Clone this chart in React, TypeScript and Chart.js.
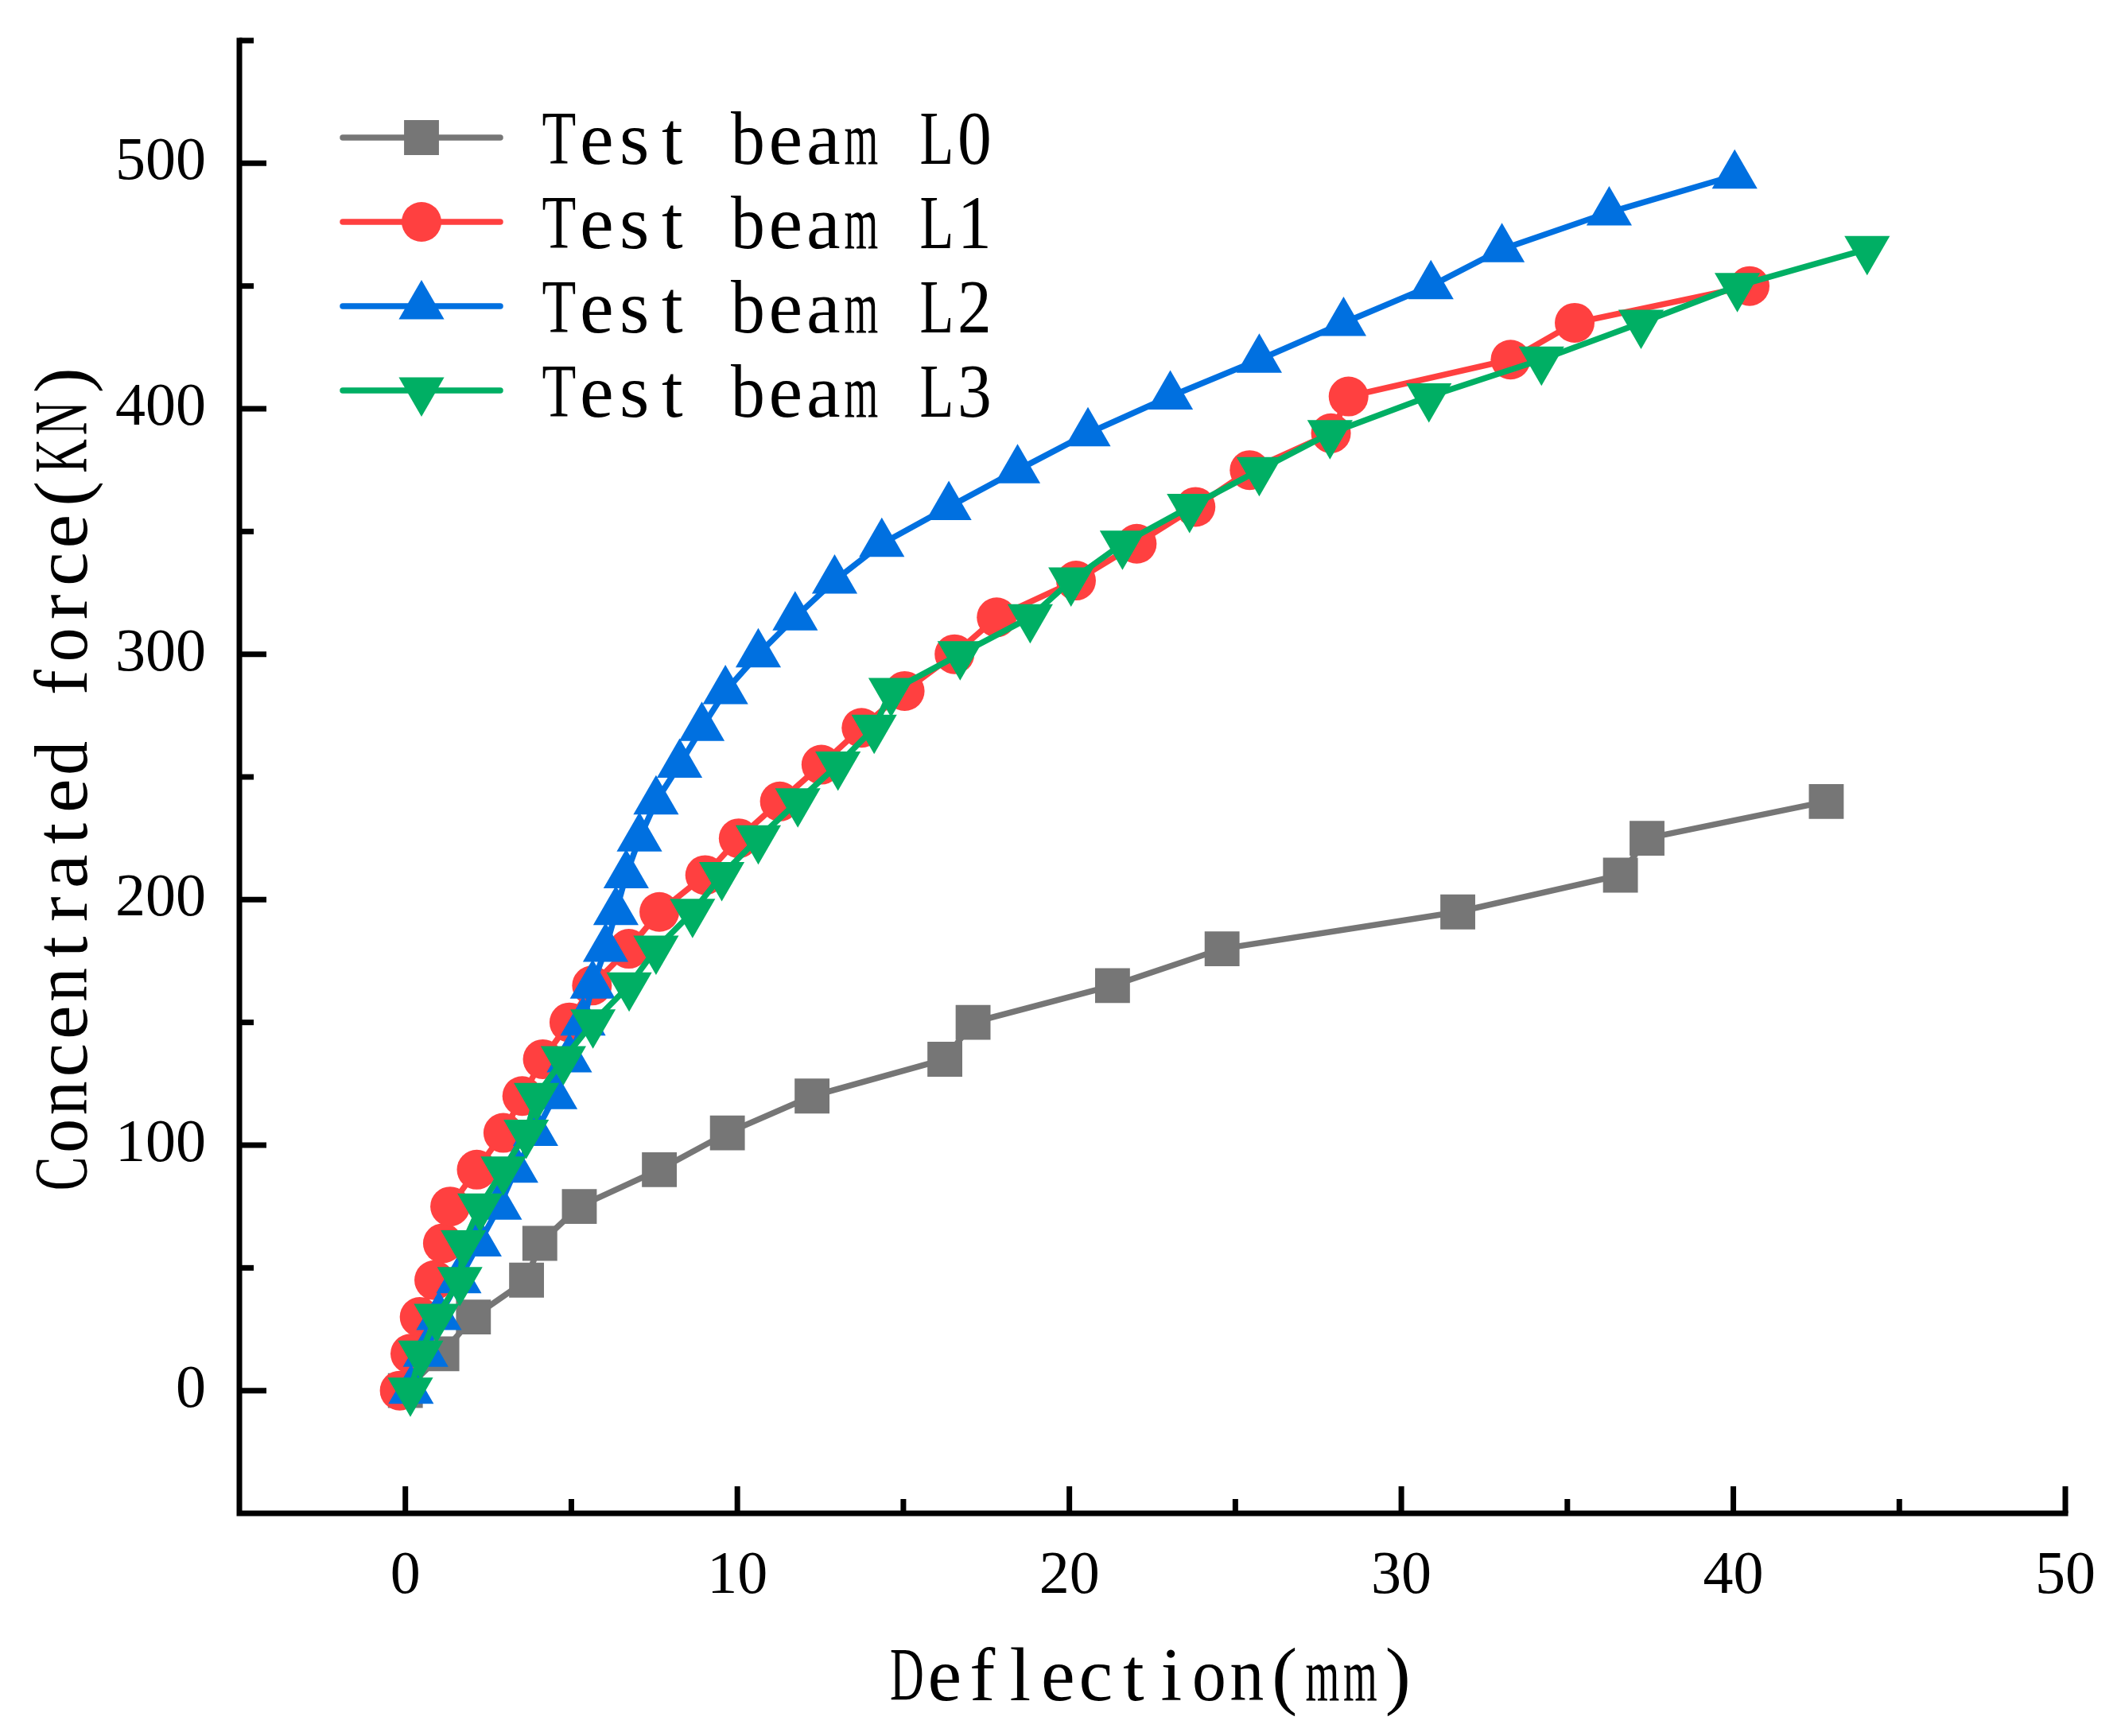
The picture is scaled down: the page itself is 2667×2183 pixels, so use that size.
import React, { useEffect, useRef } from 'react';
import { Chart, registerables } from 'chart.js';
import { drawPoint } from 'chart.js/helpers';

Chart.register(...registerables);

// load steps (kN) and measured deflection (mm) for each beam
const loadL0 = [0, 15, 30, 45, 60, 75, 90, 105, 120, 135, 150, 165, 180, 195, 210, 225, 240];
const deflL0 = [0, 1.1, 2.05, 3.65, 4.05, 5.24, 7.65, 9.7, 12.25, 16.25, 17.1, 21.3, 24.6, 31.7, 36.6, 37.4, 42.8];

const loadL1 = [0, 15, 30, 45, 60, 75, 90, 105, 120, 135, 150, 165, 180, 195, 210, 225, 240, 255, 270, 285, 300, 315, 330, 345, 360, 375, 390, 405, 420, 435, 450];
const deflL1 = [-0.17, 0.15, 0.43, 0.87, 1.13, 1.35, 2.15, 2.95, 3.52, 4.14, 4.94, 5.62, 6.73, 7.65, 9.03, 10.04, 11.28, 12.53, 13.74, 15.04, 16.54, 17.81, 20.2, 22.03, 23.8, 25.43, 27.88, 28.41, 33.29, 35.22, 40.49];

const loadL2 = [0, 15, 30, 45, 60, 75, 90, 105, 120, 135, 150, 165, 180, 195, 210, 225, 240, 255, 270, 285, 300, 315, 330, 345, 360, 375, 390, 405, 420, 435, 450, 465, 480, 495];
const deflL2 = [0.17, 0.61, 1.01, 1.61, 2.22, 2.83, 3.32, 3.92, 4.5, 4.94, 5.35, 5.64, 6.03, 6.34, 6.65, 7.05, 7.55, 8.26, 8.93, 9.64, 10.63, 11.74, 12.93, 14.35, 16.37, 18.44, 20.56, 23.04, 25.72, 28.26, 30.89, 33.03, 36.26, 40.04];

const loadL3 = [0, 15, 30, 45, 60, 75, 90, 105, 120, 135, 150, 165, 180, 195, 210, 225, 240, 255, 270, 285, 300, 315, 330, 345, 360, 375, 390, 405, 420, 435, 450, 465];
const deflL3 = [0.15, 0.46, 0.94, 1.64, 1.75, 2.25, 2.95, 3.64, 3.95, 4.76, 5.65, 6.74, 7.55, 8.65, 9.53, 10.63, 11.82, 13.03, 14.12, 14.63, 16.71, 18.82, 20.05, 21.6, 23.62, 25.72, 27.85, 30.83, 34.22, 37.22, 40.12, 44.03];

const seriesNames = ['Test beam L0', 'Test beam L1', 'Test beam L2', 'Test beam L3'];

const xMajorTicks = [0, 10, 20, 30, 40, 50];
const xMinorTicks = [5, 15, 25, 35, 45];
const yMajorTicks = [0, 100, 200, 300, 400, 500];
const yMinorTicks = [50, 150, 250, 350, 450, 550];

const xTitle = 'Deflection(mm)';
const yTitle = 'Concentrated force(KN)';

const TEXT_FONT = '96px "Liberation Serif"';
const CELL = 47.5;

// draws text as fixed-width cells, squeezing wide glyphs (looks like SimSun latin)
function drawMono(ctx: CanvasRenderingContext2D, text: string, x: number, y: number) {
  ctx.font = TEXT_FONT;
  ctx.textAlign = 'center';
  ctx.textBaseline = 'alphabetic';
  for (let i = 0; i < text.length; i++) {
    const ch = text[i];
    if (ch === ' ') continue;
    const w = ctx.measureText(ch).width;
    const s = Math.min(1, (CELL * 0.9) / w);
    ctx.save();
    ctx.translate(x + CELL * (i + 0.5), y);
    ctx.scale(s, 1);
    ctx.fillText(ch, 0, 0);
    ctx.restore();
  }
}

const axesPlugin = {
  id: 'axesPlugin',
  afterDraw(chart: any) {
    const { ctx, chartArea: a, scales } = chart;
    const xs = scales.x;
    const ys = scales.y;
    ctx.save();
    ctx.strokeStyle = '#000';
    ctx.fillStyle = '#000';

    // spines
    ctx.lineWidth = 7;
    ctx.lineCap = 'square';
    ctx.lineJoin = 'miter';
    ctx.beginPath();
    ctx.moveTo(a.left, a.top);
    ctx.lineTo(a.left, a.bottom);
    ctx.lineTo(a.right, a.bottom);
    ctx.stroke();

    // inward ticks
    ctx.lineCap = 'butt';
    const tick = (x1: number, y1: number, x2: number, y2: number) => {
      ctx.beginPath();
      ctx.moveTo(x1, y1);
      ctx.lineTo(x2, y2);
      ctx.stroke();
    };
    xMajorTicks.forEach((v) => { const p = xs.getPixelForValue(v); tick(p, a.bottom, p, a.bottom - 34); });
    xMinorTicks.forEach((v) => { const p = xs.getPixelForValue(v); tick(p, a.bottom, p, a.bottom - 18); });
    yMajorTicks.forEach((v) => { const p = ys.getPixelForValue(v); tick(a.left, p, a.left + 34, p); });
    yMinorTicks.forEach((v) => { const p = ys.getPixelForValue(v); tick(a.left, p, a.left + 18, p); });

    // axis titles
    drawMono(ctx, xTitle, (a.left + a.right) / 2 - (xTitle.length * CELL) / 2, 2138);
    ctx.save();
    ctx.translate(109, (a.top + a.bottom) / 2);
    ctx.rotate(-Math.PI / 2);
    drawMono(ctx, yTitle, -(yTitle.length * CELL) / 2, 0);
    ctx.restore();

    // legend
    chart.data.datasets.forEach((ds: any, i: number) => {
      const rowY = 173 + i * 106;
      ctx.strokeStyle = ds.borderColor;
      ctx.lineWidth = ds.borderWidth;
      ctx.lineCap = 'round';
      ctx.beginPath();
      ctx.moveTo(431, rowY);
      ctx.lineTo(629, rowY);
      ctx.stroke();
      ctx.fillStyle = ds.pointBackgroundColor;
      drawPoint(ctx, {
        pointStyle: ds.pointStyle,
        rotation: ds.pointRotation || 0,
        radius: ds.pointRadius,
        borderWidth: 0,
      }, 530, rowY);
      ctx.fillStyle = '#000';
      drawMono(ctx, seriesNames[i], 679, rowY + 33);
    });
    ctx.restore();
  },
};

const toPoints = (xs: number[], ys: number[]) => xs.map((x, i) => ({ x, y: ys[i] }));

const makeSet = (label: string, color: string, pts: { x: number; y: number }[], style: string, radius: number, rotation: number, order: number) => ({
  label,
  data: pts,
  borderColor: color,
  backgroundColor: color,
  pointBackgroundColor: color,
  pointBorderColor: color,
  pointBorderWidth: 0,
  borderWidth: 7.5,
  pointStyle: style,
  pointRadius: radius,
  pointRotation: rotation,
  tension: 0,
  order,
});

const App: React.FC = () => {
  const canvasRef = useRef<HTMLCanvasElement>(null);

  useEffect(() => {
    if (!canvasRef.current) return;
    const chart = new Chart(canvasRef.current, {
      type: 'line',
      data: {
        datasets: [
          makeSet(seriesNames[0], '#767676', toPoints(deflL0, loadL0), 'rect', 31, 0, 3),
          makeSet(seriesNames[1], '#FF4040', toPoints(deflL1, loadL1), 'circle', 25, 0, 2),
          makeSet(seriesNames[2], '#0070E0', toPoints(deflL2, loadL2), 'triangle', 33, 0, 1),
          makeSet(seriesNames[3], '#00AF64', toPoints(deflL3, loadL3), 'triangle', 33, 180, 0),
        ] as any,
      },
      options: {
        animation: false,
        responsive: true,
        maintainAspectRatio: false,
        devicePixelRatio: 1,
        clip: false as any,
        layout: { padding: { left: 0, top: 51, right: 70, bottom: 0 } },
        plugins: {
          legend: { display: false },
          tooltip: { enabled: false },
        },
        scales: {
          x: {
            type: 'linear',
            position: 'bottom',
            min: -5,
            max: 50,
            grid: { display: false, drawTicks: false },
            border: { display: false },
            afterFit: (s: any) => { s.height = 280; s.paddingLeft = 0; s.paddingRight = 0; },
            afterBuildTicks: (s: any) => { s.ticks = xMajorTicks.map((value) => ({ value })); },
            ticks: {
              padding: 34,
              color: '#000',
              font: { family: 'Liberation Serif', size: 76 },
              maxRotation: 0,
              autoSkip: false,
            },
          },
          y: {
            type: 'linear',
            min: -50,
            max: 550,
            grid: { display: false, drawTicks: false },
            border: { display: false },
            afterFit: (s: any) => { s.width = 301; s.paddingTop = 0; s.paddingBottom = 0; },
            afterBuildTicks: (s: any) => { s.ticks = yMajorTicks.map((value) => ({ value })); },
            ticks: {
              padding: 42,
              color: '#000',
              font: { family: 'Liberation Serif', size: 76 },
              autoSkip: false,
            },
          },
        },
      },
      plugins: [axesPlugin],
    });
    return () => {
      chart.destroy();
    };
  }, []);

  return (
    <div style={{ position: 'fixed', left: 0, top: 0, width: 2667, height: 2183, background: '#fff' }}>
      <canvas ref={canvasRef} />
    </div>
  );
};

export default App;
